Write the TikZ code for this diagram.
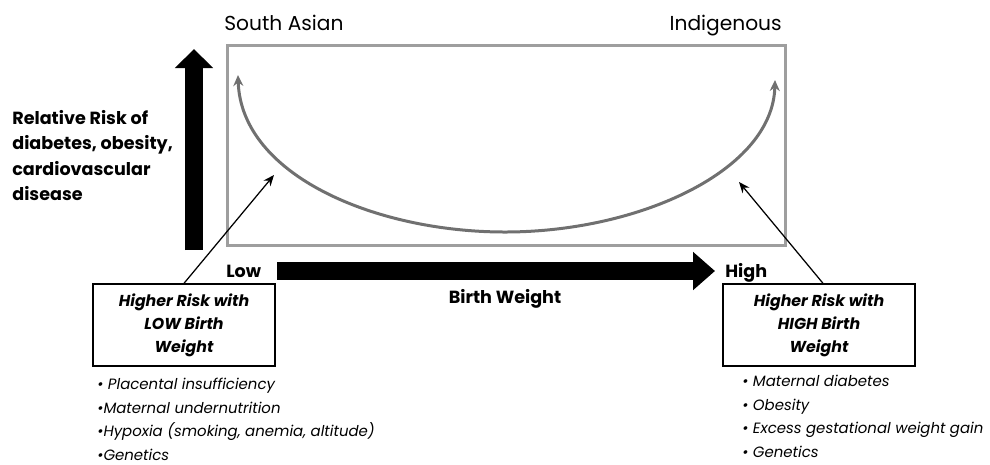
\documentclass[tikz,border=0pt]{standalone}
\usepackage{fontspec}
\setmainfont{Poppins}
\usetikzlibrary{positioning,arrows.meta}
\definecolor{framegray}{RGB}{158,158,158}
\definecolor{curvegray}{RGB}{112,112,112}
\tikzset{
  grp/.style     ={inner sep=0pt, font=\fontsize{11.5}{14}\selectfont},
  axlbl/.style   ={inner sep=0pt, font=\bfseries\fontsize{10}{14.5}\selectfont},
  riskbox/.style ={rectangle, draw, thick, align=center, inner sep=0pt,
                   minimum height=1.64cm, font=\bfseries\itshape\fontsize{9}{13}\selectfont},
  causes/.style  ={inner sep=0pt, align=left, anchor=north west,
                   font=\itshape\fontsize{8.5}{13.4}\selectfont},
  bigflow/.style ={line width=3.6mm},
  thinflow/.style={-{Stealth[length=2.2mm, width=1.8mm]}, line width=0.25mm},
  curveflow/.style={{Stealth[length=2.2mm, width=2mm]}-{Stealth[length=2.2mm, width=2mm]},
                   line width=0.6mm, draw=curvegray},
}
\begin{document}
\begin{tikzpicture}[x={(0.02cm,0)}, y={(0,-0.02cm)}]
  \useasboundingbox (0,0) rectangle (990,464);
  % plot area and group labels
  \node[draw=framegray, line width=0.6mm, minimum width=11.18cm, minimum height=4cm, inner sep=0pt]
    (plot) at (506.5,145.5) {};
  \node[grp, anchor=base west] (sasian) at (224,30) {South Asian};
  \node[grp, anchor=base east] (indig) at (782,30) {Indigenous};
  % axes
  \node[axlbl, align=left, anchor=north west] (risk) at (12,110)
    {Relative Risk of\\diabetes, obesity,\\cardiovascular\\disease};
  \coordinate (ybot) at (194,250);
  \coordinate (ytop) at (194,49);
  \draw[bigflow, -{Triangle[length=3.8mm, width=7.4mm]}] (ybot) -- (ytop);
  \node[axlbl, anchor=base west] (low) at (226,277) {Low};
  \node[axlbl, anchor=base west] (high) at (725,277) {High};
  \node[axlbl, anchor=base] (bw) at (505,303) {Birth Weight};
  \coordinate (xbeg) at (277,271);
  \coordinate (xend) at (715,271);
  \draw[bigflow, -{Triangle[length=4.4mm, width=7.4mm]}] (xbeg) -- (xend);
  % U-shaped risk curve
  \coordinate (sa) at (238,75);
  \coordinate (umin) at (505,232);
  \coordinate (ind) at (775,80);
  \draw[curveflow] (sa) .. controls (241,175) and (375,232) .. (umin)
                        .. controls (640,232) and (773,170) .. (ind);
  % risk boxes
  \node[riskbox, minimum width=3.64cm] (lowbox) at (184,325)
    {Higher Risk with\\LOW Birth\\Weight};
  \node[riskbox, minimum width=3.84cm] (highbox) at (819,325)
    {Higher Risk with\\HIGH Birth\\Weight};
  \coordinate (lowtip) at (274,175);
  \coordinate (hightip) at (739,182);
  \draw[thinflow] (lowbox.north) -- (lowtip);
  \draw[thinflow] ([xshift=0.08cm]highbox.north) -- (hightip);
  % causes
  \node[causes] (lowcauses) at (97,378)
    {\textbullet{} Placental insufficiency\\\textbullet Maternal undernutrition\\
     \textbullet Hypoxia (smoking, anemia, altitude)\\\textbullet Genetics};
  \node[causes] (highcauses) at (742,375)
    {\textbullet{} Maternal diabetes\\\textbullet{} Obesity\\
     \textbullet{} Excess gestational weight gain\\\textbullet{} Genetics};
\end{tikzpicture}
\end{document}
